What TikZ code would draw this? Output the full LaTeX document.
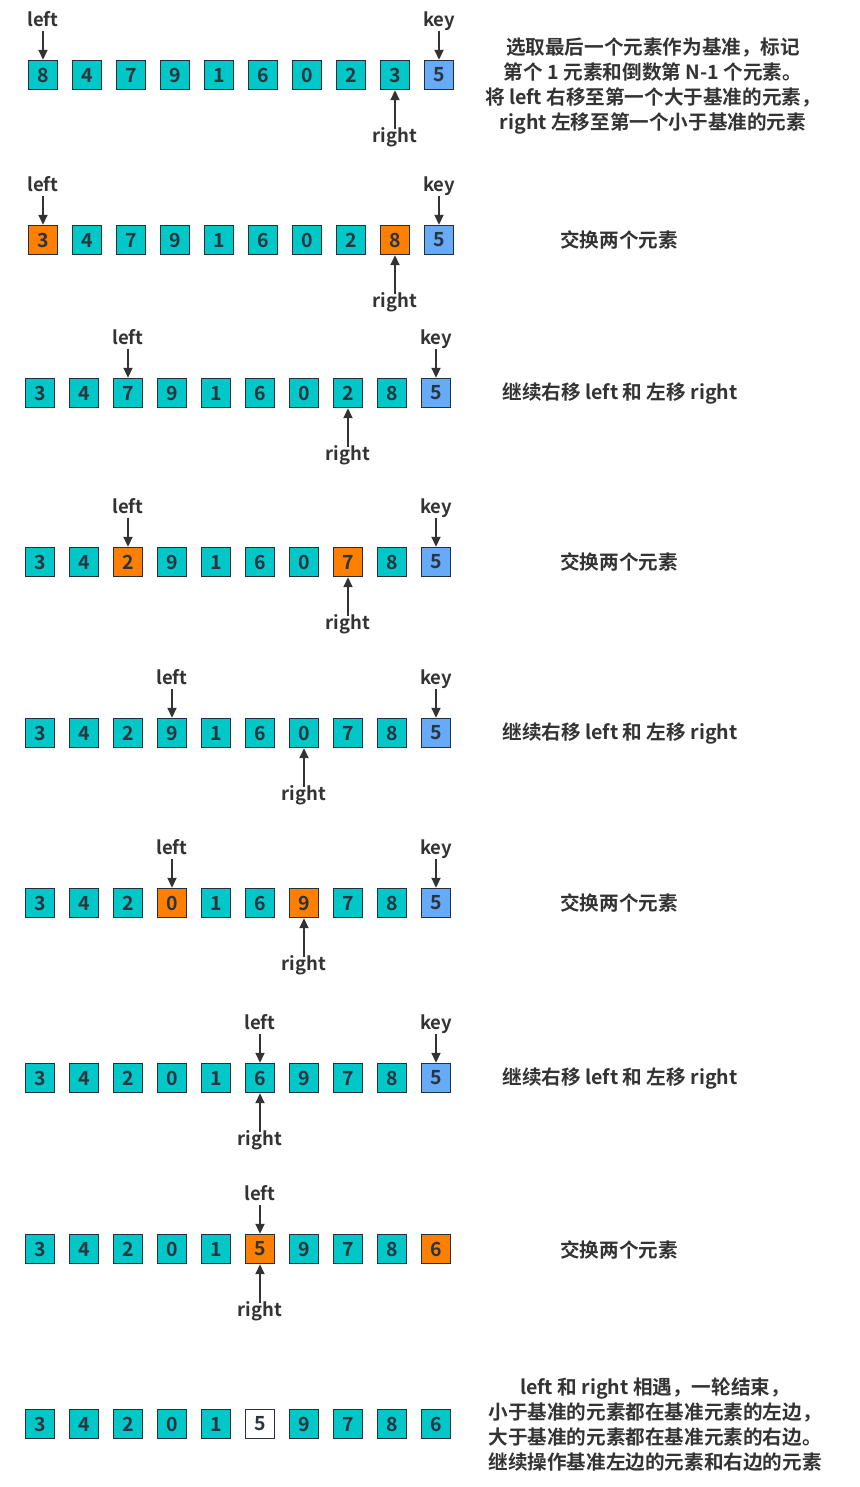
\documentclass[tikz,border=0pt]{standalone}
\usepackage{fontspec}
\setmainfont{Noto Sans CJK SC}[BoldFont={* Bold}]
\usepackage{tikz}
\usetikzlibrary{arrows.meta,positioning}
\definecolor{cellTeal}{HTML}{00C8C8}
\definecolor{keyBlue}{HTML}{66AAF8}
\definecolor{swapOrange}{HTML}{FF8000}
\definecolor{boxLine}{HTML}{23303A}
\definecolor{digitInk}{HTML}{2C3440}
\definecolor{inkGray}{HTML}{333333}

\begin{document}
\begin{tikzpicture}[
    x=1pt, y=-1pt,
    node distance=29pt,
    cell/.style={draw=boxLine, line width=1.4pt, fill=cellTeal, minimum size=29pt, inner sep=0pt,
                 font=\bfseries\fontsize{19.5}{19.5}\selectfont, text=digitInk},
    pivot/.style={cell, fill=keyBlue},
    swapped/.style={cell, fill=swapOrange},
    fixed/.style={cell, fill=white},
    tag/.style={font=\bfseries\fontsize{18.5}{18.5}\selectfont, text=inkGray, inner sep=0pt,
                text height=13pt, text depth=4pt},
    low/.style={below=39pt of #1},
    ptr/.style={-{Triangle[width=9pt,length=10pt]}, line width=1.8pt, draw=inkGray},
    note/.style={font=\bfseries\fontsize{19.6}{25}\selectfont, text=inkGray, align=center}
]
    \useasboundingbox (0,0) rectangle (859,1487);

    % 第一步：选取基准
    \foreach \v/\s [count=\i] in {8/cell,4/cell,7/cell,9/cell,1/cell,6/cell,0/cell,2/cell,3/cell,5/pivot}
        \node[style=\s] (s1-\i) at ({43+(\i-1)*44}, 75) {\v};
    \node[tag, above=of s1-1] (left1) {left};
    \node[tag, above=of s1-10] (key1) {key};
    \node[tag, low=s1-9] (right1) {right};
    \draw[ptr] (left1) -- (s1-1);
    \draw[ptr] (key1) -- (s1-10);
    \draw[ptr] (right1) -- (s1-9);
    \node[note] (note1) at (653, 86) {选取最后一个元素作为基准，标记\\第个 1 元素和倒数第 N-1 个元素。\\将 left 右移至第一个大于基准的元素，\\right 左移至第一个小于基准的元素};

    % 第二步：交换
    \foreach \v/\s [count=\i] in {3/swapped,4/cell,7/cell,9/cell,1/cell,6/cell,0/cell,2/cell,8/swapped,5/pivot}
        \node[style=\s] (s2-\i) at ({43+(\i-1)*44}, 240) {\v};
    \node[tag, above=of s2-1] (left2) {left};
    \node[tag, above=of s2-10] (key2) {key};
    \node[tag, low=s2-9] (right2) {right};
    \draw[ptr] (left2) -- (s2-1);
    \draw[ptr] (key2) -- (s2-10);
    \draw[ptr] (right2) -- (s2-9);
    \node[note] (note2) at (619, 240) {交换两个元素};

    % 第三步：继续移动
    \foreach \v/\s [count=\i] in {3/cell,4/cell,7/cell,9/cell,1/cell,6/cell,0/cell,2/cell,8/cell,5/pivot}
        \node[style=\s] (s3-\i) at ({40+(\i-1)*44}, 393) {\v};
    \node[tag, above=of s3-3] (left3) {left};
    \node[tag, above=of s3-10] (key3) {key};
    \node[tag, low=s3-8] (right3) {right};
    \draw[ptr] (left3) -- (s3-3);
    \draw[ptr] (key3) -- (s3-10);
    \draw[ptr] (right3) -- (s3-8);
    \node[note] (note3) at (620, 393) {继续右移 left 和 左移 right};

    % 第四步：交换
    \foreach \v/\s [count=\i] in {3/cell,4/cell,2/swapped,9/cell,1/cell,6/cell,0/cell,7/swapped,8/cell,5/pivot}
        \node[style=\s] (s4-\i) at ({40+(\i-1)*44}, 562) {\v};
    \node[tag, above=of s4-3] (left4) {left};
    \node[tag, above=of s4-10] (key4) {key};
    \node[tag, low=s4-8] (right4) {right};
    \draw[ptr] (left4) -- (s4-3);
    \draw[ptr] (key4) -- (s4-10);
    \draw[ptr] (right4) -- (s4-8);
    \node[note] (note4) at (619, 562) {交换两个元素};

    % 第五步：继续移动
    \foreach \v/\s [count=\i] in {3/cell,4/cell,2/cell,9/cell,1/cell,6/cell,0/cell,7/cell,8/cell,5/pivot}
        \node[style=\s] (s5-\i) at ({40+(\i-1)*44}, 733) {\v};
    \node[tag, above=of s5-4] (left5) {left};
    \node[tag, above=of s5-10] (key5) {key};
    \node[tag, low=s5-7] (right5) {right};
    \draw[ptr] (left5) -- (s5-4);
    \draw[ptr] (key5) -- (s5-10);
    \draw[ptr] (right5) -- (s5-7);
    \node[note] (note5) at (620, 733) {继续右移 left 和 左移 right};

    % 第六步：交换
    \foreach \v/\s [count=\i] in {3/cell,4/cell,2/cell,0/swapped,1/cell,6/cell,9/swapped,7/cell,8/cell,5/pivot}
        \node[style=\s] (s6-\i) at ({40+(\i-1)*44}, 903) {\v};
    \node[tag, above=of s6-4] (left6) {left};
    \node[tag, above=of s6-10] (key6) {key};
    \node[tag, low=s6-7] (right6) {right};
    \draw[ptr] (left6) -- (s6-4);
    \draw[ptr] (key6) -- (s6-10);
    \draw[ptr] (right6) -- (s6-7);
    \node[note] (note6) at (619, 903) {交换两个元素};

    % 第七步：相遇
    \foreach \v/\s [count=\i] in {3/cell,4/cell,2/cell,0/cell,1/cell,6/cell,9/cell,7/cell,8/cell,5/pivot}
        \node[style=\s] (s7-\i) at ({40+(\i-1)*44}, 1078) {\v};
    \node[tag, above=of s7-6] (left7) {left};
    \node[tag, above=of s7-10] (key7) {key};
    \node[tag, low=s7-6] (right7) {right};
    \draw[ptr] (left7) -- (s7-6);
    \draw[ptr] (key7) -- (s7-10);
    \draw[ptr] (right7) -- (s7-6);
    \node[note] (note7) at (620, 1078) {继续右移 left 和 左移 right};

    % 第八步：与基准交换
    \foreach \v/\s [count=\i] in {3/cell,4/cell,2/cell,0/cell,1/cell,5/swapped,9/cell,7/cell,8/cell,6/swapped}
        \node[style=\s] (s8-\i) at ({40+(\i-1)*44}, 1249) {\v};
    \node[tag, above=of s8-6] (left8) {left};
    \node[tag, low=s8-6] (right8) {right};
    \draw[ptr] (left8) -- (s8-6);
    \draw[ptr] (right8) -- (s8-6);
    \node[note] (note8) at (619, 1250) {交换两个元素};

    % 一轮结束
    \foreach \v/\s [count=\i] in {3/cell,4/cell,2/cell,0/cell,1/cell,5/fixed,9/cell,7/cell,8/cell,6/cell}
        \node[style=\s] (s9-\i) at ({40+(\i-1)*44}, 1424) {\v};
    \node[note] (note9) at (655, 1425) {left 和 right 相遇，一轮结束，\\小于基准的元素都在基准元素的左边，\\大于基准的元素都在基准元素的右边。\\继续操作基准左边的元素和右边的元素};
\end{tikzpicture}
\end{document}
